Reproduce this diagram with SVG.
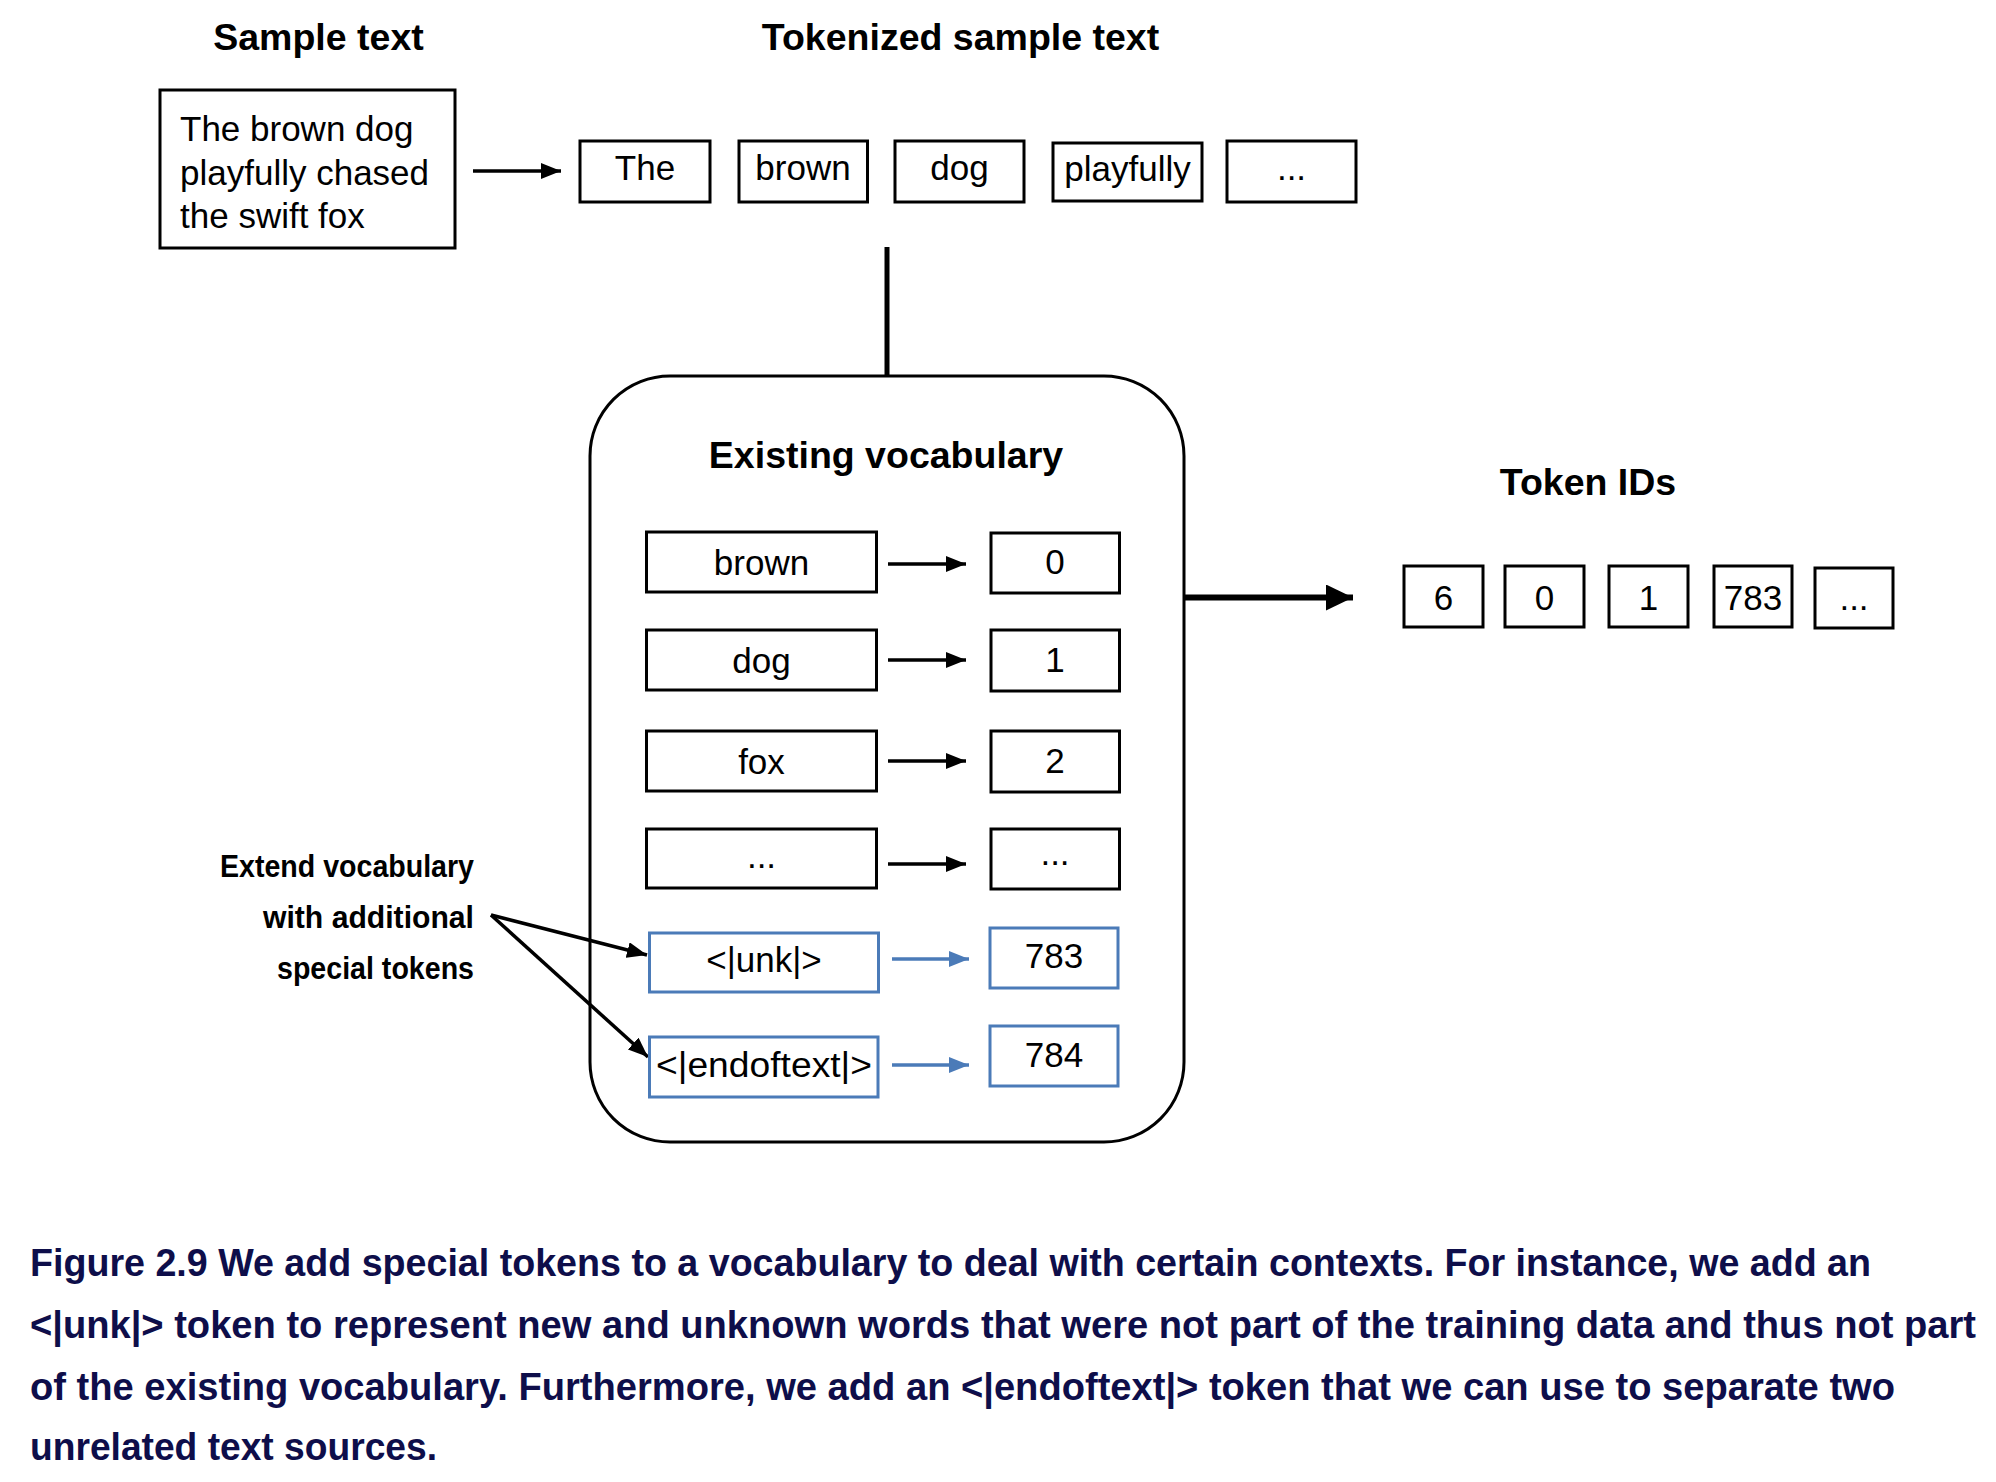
<svg xmlns="http://www.w3.org/2000/svg" width="1996" height="1482" viewBox="0 0 1996 1482">
<style>
  .bg { fill: #ffffff; }
  .box { fill: #ffffff; stroke: #000000; stroke-width: 3; }
  .bbox { fill: #ffffff; stroke: #4b7bb8; stroke-width: 3; }
  .cont { fill: none; stroke: #000000; stroke-width: 3; }
  .t { font-family: "Liberation Sans", Arial, sans-serif; font-size: 35px; fill: #000000; text-anchor: middle; }
  .tl { font-family: "Liberation Sans", Arial, sans-serif; font-size: 35px; fill: #000000; text-anchor: start; }
  .h { font-family: "Liberation Sans", Arial, sans-serif; font-size: 37.5px; font-weight: bold; fill: #000000; text-anchor: middle; }
  .lab { font-family: "Liberation Sans", Arial, sans-serif; font-size: 31px; font-weight: bold; fill: #000000; text-anchor: end; }
  .cap { font-family: "Liberation Sans", Arial, sans-serif; font-size: 38px; font-weight: bold; fill: #0e0e4a; }
  .ln { fill: none; stroke: #000000; stroke-width: 3.5; }
  .lnb { fill: none; stroke: #4b7bb8; stroke-width: 3.5; }
</style>
<defs>
  <marker id="ah" markerUnits="userSpaceOnUse" markerWidth="20" markerHeight="16" refX="20" refY="8" orient="auto">
    <path d="M0,0 L20,8 L0,16 z" fill="#000000"/>
  </marker>
  <marker id="ahb" markerUnits="userSpaceOnUse" markerWidth="20" markerHeight="16" refX="20" refY="8" orient="auto">
    <path d="M0,0 L20,8 L0,16 z" fill="#4b7bb8"/>
  </marker>
  <marker id="ahbig" markerUnits="userSpaceOnUse" markerWidth="27" markerHeight="26" refX="27" refY="13" orient="auto">
    <path d="M0,0 L27,13 L0,26 z" fill="#000000"/>
  </marker>
</defs>
<rect class="bg" x="0" y="0" width="1996" height="1482"/>

<g id="connectors">
  <line class="ln" x1="473" y1="171" x2="561" y2="171" marker-end="url(#ah)"/>
  <line class="ln" x1="887" y1="247" x2="887" y2="376" style="stroke-width:5"/>
  <line class="ln" x1="1184" y1="597.5" x2="1353" y2="597.5" style="stroke-width:6" marker-end="url(#ahbig)"/>
  <line class="ln" x1="888" y1="564" x2="966" y2="564" marker-end="url(#ah)"/>
  <line class="ln" x1="888" y1="660" x2="966" y2="660" marker-end="url(#ah)"/>
  <line class="ln" x1="888" y1="761" x2="966" y2="761" marker-end="url(#ah)"/>
  <line class="ln" x1="888" y1="864" x2="966" y2="864" marker-end="url(#ah)"/>
  <line class="lnb" x1="892" y1="959" x2="969" y2="959" marker-end="url(#ahb)"/>
  <line class="lnb" x1="892" y1="1065" x2="969" y2="1065" marker-end="url(#ahb)"/>
  <line class="ln" x1="491" y1="915" x2="647" y2="955" marker-end="url(#ah)"/>
  <line class="ln" x1="491" y1="915" x2="648" y2="1057" marker-end="url(#ah)"/>
</g>

<g id="sample-text">
  <text class="h" x="318.5" y="50">Sample text</text>
  <rect class="box" x="160" y="90" width="295" height="158"/>
  <text class="tl" x="180" y="141">The brown dog</text>
  <text class="tl" x="180" y="184.5">playfully chased</text>
  <text class="tl" x="180" y="228">the swift fox</text>
</g>

<g id="tokenized-title">
  <text class="h" x="960.5" y="50">Tokenized sample text</text>
</g>
<g id="tok-the"><rect class="box" x="580" y="141" width="130" height="61"/><text class="t" x="645" y="180">The</text></g>
<g id="tok-brown"><rect class="box" x="739" y="141" width="128.5" height="61"/><text class="t" x="803" y="180">brown</text></g>
<g id="tok-dog"><rect class="box" x="895" y="141" width="129" height="61"/><text class="t" x="959.5" y="180">dog</text></g>
<g id="tok-playfully"><rect class="box" x="1053" y="143" width="149" height="58"/><text class="t" x="1127.5" y="181">playfully</text></g>
<g id="tok-more"><rect class="box" x="1227" y="141" width="129" height="61"/><text class="t" x="1291.5" y="180">...</text></g>

<g id="vocabulary">
  <rect class="cont" x="590" y="376" width="594" height="766" rx="80" ry="80"/>
  <text class="h" x="886" y="468">Existing vocabulary</text>
</g>
<g id="row-brown">
  <rect class="box" x="646.5" y="532" width="230" height="60"/><text class="t" x="761.5" y="575">brown</text>
  <rect class="box" x="991" y="533" width="128.5" height="60"/><text class="t" x="1055" y="574">0</text>
</g>
<g id="row-dog">
  <rect class="box" x="646.5" y="630" width="230" height="60"/><text class="t" x="761.5" y="673">dog</text>
  <rect class="box" x="991" y="630" width="128.5" height="61"/><text class="t" x="1055" y="672">1</text>
</g>
<g id="row-fox">
  <rect class="box" x="646.5" y="731" width="230" height="60"/><text class="t" x="761.5" y="774">fox</text>
  <rect class="box" x="991" y="731" width="128.5" height="61"/><text class="t" x="1055" y="773">2</text>
</g>
<g id="row-more">
  <rect class="box" x="646.5" y="829" width="230" height="59"/><text class="t" x="761.5" y="868">...</text>
  <rect class="box" x="991" y="829" width="128.5" height="60"/><text class="t" x="1055" y="865">...</text>
</g>
<g id="row-unk">
  <rect class="bbox" x="649.5" y="933" width="229" height="59"/><text class="t" x="764" y="972">&lt;|unk|&gt;</text>
  <rect class="bbox" x="990" y="928" width="128" height="60"/><text class="t" x="1054" y="968">783</text>
</g>
<g id="row-endoftext">
  <rect class="bbox" x="649.5" y="1037" width="228.5" height="60"/><text class="t" x="764" y="1077" textLength="216" lengthAdjust="spacingAndGlyphs">&lt;|endoftext|&gt;</text>
  <rect class="bbox" x="990" y="1026" width="128" height="60"/><text class="t" x="1054" y="1067">784</text>
</g>

<g id="extend-label">
  <text class="lab" x="474" y="877" textLength="254" lengthAdjust="spacingAndGlyphs">Extend vocabulary</text>
  <text class="lab" x="474" y="928" textLength="211" lengthAdjust="spacingAndGlyphs">with additional</text>
  <text class="lab" x="474" y="979" textLength="197" lengthAdjust="spacingAndGlyphs">special tokens</text>
</g>

<g id="token-ids-title"><text class="h" x="1588" y="495">Token IDs</text></g>
<g id="id-6"><rect class="box" x="1404" y="566" width="79" height="61"/><text class="t" x="1443.5" y="610">6</text></g>
<g id="id-0"><rect class="box" x="1505" y="566" width="79" height="61"/><text class="t" x="1544.5" y="610">0</text></g>
<g id="id-1"><rect class="box" x="1609" y="566" width="79" height="61"/><text class="t" x="1648.5" y="610">1</text></g>
<g id="id-783"><rect class="box" x="1714" y="566" width="78" height="61"/><text class="t" x="1753" y="610">783</text></g>
<g id="id-more"><rect class="box" x="1815" y="568" width="78" height="60"/><text class="t" x="1854" y="610">...</text></g>

<g id="caption">
  <text class="cap" x="30" y="1276" textLength="1841" lengthAdjust="spacingAndGlyphs">Figure 2.9 We add special tokens to a vocabulary to deal with certain contexts. For instance, we add an</text>
  <text class="cap" x="30" y="1338" textLength="1946" lengthAdjust="spacingAndGlyphs">&lt;|unk|&gt; token to represent new and unknown words that were not part of the training data and thus not part</text>
  <text class="cap" x="30" y="1400" textLength="1865" lengthAdjust="spacingAndGlyphs">of the existing vocabulary. Furthermore, we add an &lt;|endoftext|&gt; token that we can use to separate two</text>
  <text class="cap" x="30" y="1460" textLength="407" lengthAdjust="spacingAndGlyphs">unrelated text sources.</text>
</g>
</svg>
